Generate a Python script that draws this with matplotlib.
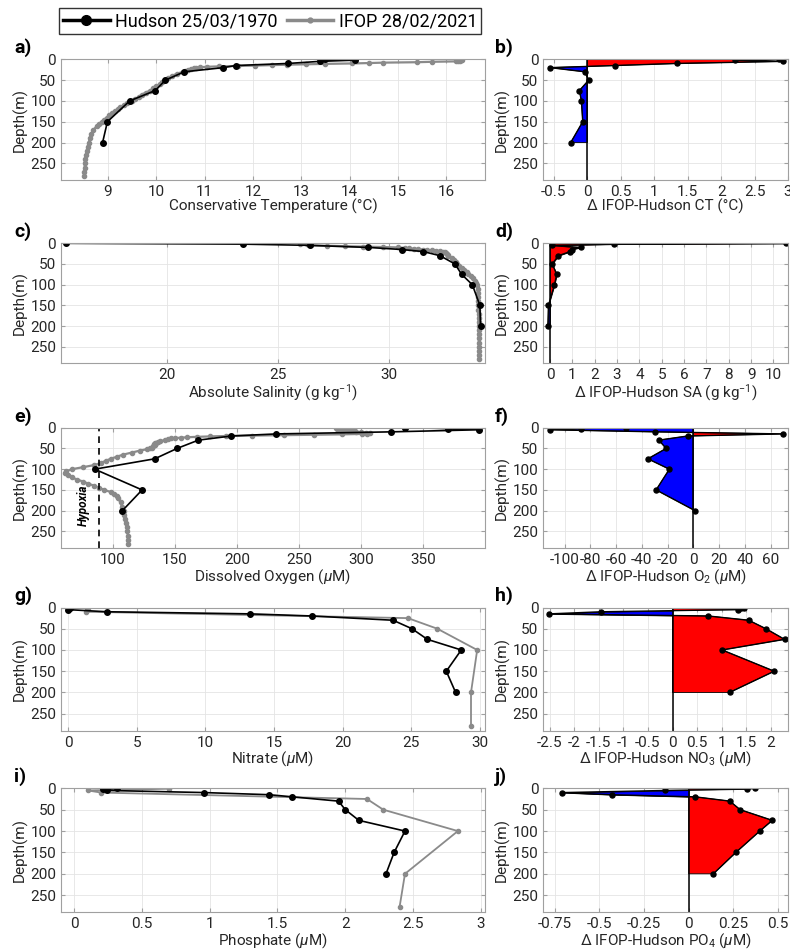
import numpy as np
import matplotlib
matplotlib.use("Agg")
import matplotlib.pyplot as plt
from matplotlib.lines import Line2D
from matplotlib.ticker import FuncFormatter

plt.rcParams['font.family'] = ['Roboto', 'DejaVu Sans']
plt.rcParams['axes.unicode_minus'] = False
plt.rcParams['mathtext.fontset'] = 'custom'
plt.rcParams['mathtext.rm'] = 'Roboto'
plt.rcParams['mathtext.it'] = 'Roboto:italic'
plt.rcParams['mathtext.bf'] = 'Roboto:bold'

# Hudson 25/03/1970 bottle data
hud_depth = [0, 2, 5, 10, 15, 20, 30, 50, 75, 100, 150, 200]
hud_ct = [13.49, 14.11, 13.38, 12.72, 11.64, 11.39, 10.58, 10.19, 9.98, 9.45, 8.99, 8.89]
hud_sa = [15.46, 23.41, 26.44, 29.06, 30.55, 31.53, 32.28, 32.95, 33.25, 33.73, 34.07, 34.10]
hud_o2 = [335.5, 370.2, 395.2, 324.5, 231.7, 195.4, 168.8, 151.6, 133.6, 85.2, 123.4, 107.5]
hud_no3 = [0.10, 0.05, 0.0, 2.79, 13.28, 17.77, 23.67, 25.05, 26.17, 28.64, 27.55, 28.23]
hud_po4 = [0.32, 0.216, 0.24, 0.96, 1.44, 1.61, 1.95, 2.0, 2.10, 2.44, 2.36, 2.30]

# IFOP 28/02/2021 CTD profiles
ifop_ct_depth = [1, 2, 3, 4, 5, 6, 7, 8, 9, 10, 11, 12, 13, 14, 15, 16, 17, 18, 19, 20,
                 22, 24, 26, 28, 30, 35, 40, 45, 50, 55, 60, 65, 70, 75, 80, 85, 90, 95,
                 100, 105, 110, 115, 120, 125, 130, 135, 140, 145, 150, 155, 160, 170,
                 180, 190, 200, 210, 220, 230, 240, 250, 260, 270, 280]
ifop_ct = [16.33, 16.30, 16.28, 16.25, 16.20, 15.70, 15.40, 14.70, 14.40, 14.05, 13.50,
           13.10, 12.70, 12.40, 12.05, 11.70, 11.30, 11.05, 10.90, 10.83, 10.78, 10.72,
           10.65, 10.60, 10.55, 10.42, 10.32, 10.25, 10.18, 10.12, 10.07, 10.00, 9.93,
           9.88, 9.78, 9.70, 9.64, 9.57, 9.49, 9.40, 9.33, 9.26, 9.20, 9.14, 9.08, 9.03,
           8.98, 8.92, 8.87, 8.82, 8.77, 8.70, 8.66, 8.63, 8.60, 8.58, 8.56, 8.55, 8.53,
           8.52, 8.52, 8.51, 8.51]

ifop_sa_depth = [1, 2, 3, 4, 5, 6, 7, 8, 9, 10, 11, 12, 13, 14, 15, 16, 17, 18, 19, 20,
                 22, 24, 26, 28, 30, 35, 40, 45, 50, 55, 60, 65, 70, 75, 80, 85, 90, 95,
                 100, 110, 120, 130, 140, 150, 160, 170, 180, 190, 200, 210, 220, 230,
                 240, 250, 260, 270, 280]
ifop_sa = [26.0, 26.3, 26.4, 26.45, 26.5, 27.2, 28.0, 28.8, 29.7, 30.4, 30.7, 30.9, 31.1,
           31.3, 31.5, 31.7, 31.9, 32.1, 32.3, 32.43, 32.5, 32.55, 32.6, 32.62, 32.65,
           32.8, 32.9, 32.98, 33.05, 33.15, 33.27, 33.37, 33.47, 33.55, 33.65, 33.75,
           33.83, 33.9, 33.93, 33.97, 33.99, 34.0, 34.0, 34.0, 34.0, 34.01, 34.01, 34.01,
           34.01, 34.02, 34.02, 34.02, 34.02, 34.02, 34.02, 34.02, 34.02]

ifop_o2_depth = [1, 2, 3, 4, 5, 6, 7, 8, 9, 10, 11, 12, 13, 14, 15, 16, 17, 18, 19, 20,
                 21, 22, 23, 24, 25, 26, 28, 30, 32, 34, 36, 38, 40, 42, 45, 48, 50, 52,
                 55, 60, 65, 70, 75, 80, 85, 90, 95, 100, 105, 110, 115, 120, 125, 130,
                 135, 140, 145, 150, 155, 160, 165, 170, 180, 190, 200, 210, 220, 230,
                 240, 250, 260, 270, 280]
ifop_o2 = [280, 283, 281, 285, 284, 287, 290, 293, 295, 296, 300, 304, 307, 305, 301, 285,
           262, 238, 212, 191, 178, 168, 160, 155, 150, 147, 144, 142, 138, 136, 134, 135,
           133, 134, 132, 131, 130, 127, 122, 115, 108, 103, 98, 94, 90, 85, 76, 67, 62,
           61, 64, 67, 71, 76, 80, 85, 89, 93, 98, 101, 103, 104, 106, 107, 108.5, 109,
           110, 110.5, 111, 111.5, 112, 112, 112]

# IFOP 28/02/2021 bottle nutrients
ifop_nut_depth = [1, 5, 10, 25, 50, 100, 200, 278]
ifop_no3 = [1.45, 1.40, 1.30, 24.75, 26.9, 29.8, 29.35, 29.35]
ifop_po4 = [0.70, 0.10, 0.20, 2.16, 2.28, 2.83, 2.44, 2.40]

# IFOP - Hudson differences at Hudson depths
d_ct = [2.86, 2.21, 2.92, 1.34, 0.41, -0.56, -0.04, 0.02, -0.12, -0.09, -0.07, -0.25]
d_sa = [10.55, 2.87, 0.10, 1.37, 0.97, 0.90, 0.37, 0.10, 0.30, 0.20, -0.07, -0.10]
d_o2 = [-52.0, -87.6, -111.3, -29.4, 69.6, -4.4, -26.8, -21.1, -35.3, -18.6, -28.9, 1.3]
d_no3 = [1.40, 1.45, 1.33, -1.45, -2.52, 0.73, 1.55, 1.90, 2.28, 1.01, 2.07, 1.16]
d_po4 = [0.372, 0.325, -0.132, -0.71, -0.427, 0.037, 0.23, 0.288, 0.468, 0.398, 0.264, 0.138]

hypoxia = 89

W, H = 790, 949
fig = plt.figure(figsize=(W / 100, H / 100), dpi=100)

tops = [59.3, 243.3, 427.7, 607.5, 788.3]
bots = [180, 363.3, 548, 730.7, 912.3]
grey = '#8a8a8a'
spine_c = '#a0a0a0'
txt_c = '#262626'
fmt = FuncFormatter(lambda v, p: '%g' % v)


def make_ax(x0, x1, row):
    ax = fig.add_axes([x0 / W, 1 - bots[row] / H, (x1 - x0) / W, (bots[row] - tops[row]) / H])
    ax.set_ylim(290, 0)
    ax.set_yticks([0, 50, 100, 150, 200, 250])
    ax.grid(True, color='#e4e4e4', lw=0.6)
    ax.set_axisbelow(True)
    for s in ax.spines.values():
        s.set_color(spine_c)
        s.set_linewidth(0.8)
    ax.tick_params(direction='in', length=3, color=spine_c, labelcolor=txt_c,
                   labelsize=11, top=True, right=True, pad=3.5)
    ax.xaxis.set_major_formatter(fmt)
    ax.set_ylabel('Depth(m)', fontsize=11, color=txt_c, labelpad=2)
    return ax


def left_panel(row, ifd, ifv, hv, xlim, xticks, xlabel, letter, dense=True):
    ax = make_ax(61, 485, row)
    if dense:
        ax.plot(ifv, ifd, color=grey, lw=1.6, marker='o', ms=3, mec=grey, mfc=grey)
    else:
        ax.plot(ifv, ifd, color=grey, lw=1.3, marker='o', ms=3, mec=grey, mfc=grey)
    ax.plot(hv, hud_depth, color='k', lw=1.2, marker='o', ms=4)
    ax.set_xlim(*xlim)
    ax.set_xticks(xticks)
    ax.set_xlabel(xlabel, fontsize=11, color=txt_c, labelpad=0)
    fig.text(14 / W, 1 - 53 / H - (tops[row] - 59.3) / H, letter, fontsize=14,
             fontweight='bold', ha='left', va='baseline')
    return ax


def right_panel(row, dv, xlim, xticks, xlabel, letter):
    ax = make_ax(543.3, 788, row)
    dv = np.array(dv)
    dep = np.array(hud_depth)
    ax.fill_betweenx(dep, 0, dv, where=dv >= 0, interpolate=True, facecolor='#ff0000',
                     edgecolor='k', lw=0.6)
    ax.fill_betweenx(dep, 0, dv, where=dv <= 0, interpolate=True, facecolor='#0000ff',
                     edgecolor='k', lw=0.6)
    ax.axvline(0, color='k', lw=1.1)
    ax.plot(dv, dep, color='k', lw=1.0, marker='o', ms=3.6)
    ax.set_xlim(*xlim)
    ax.set_xticks(xticks)
    ax.set_xlabel(xlabel, fontsize=11, color=txt_c, labelpad=0)
    fig.text(495 / W, 1 - 53 / H - (tops[row] - 59.3) / H, letter, fontsize=14,
             fontweight='bold', ha='left', va='baseline')
    return ax


left_panel(0, ifop_ct_depth, ifop_ct, hud_ct, (8.03, 16.8), range(9, 17),
           'Conservative Temperature (°C)', 'a)')
right_panel(0, d_ct, (-0.66, 3.0), [-0.5, 0, 0.5, 1, 1.5, 2, 2.5, 3],
            'Δ IFOP-Hudson CT (°C)', 'b)')

left_panel(1, ifop_sa_depth, ifop_sa, hud_sa, (15.25, 34.3), [20, 25, 30],
           r'Absolute Salinity (g kg$^{-1}$)', 'c)')
right_panel(1, d_sa, (-0.3, 10.65), range(0, 11),
            r'Δ IFOP-Hudson SA (g kg$^{-1}$)', 'd)')

ax_e = left_panel(2, ifop_o2_depth, ifop_o2, hud_o2, (58, 400), range(100, 400, 50),
                  r'Dissolved Oxygen ($\mu$M)', 'e)')
ax_e.axvline(hypoxia, color='k', lw=1.2, ls=(0, (4, 3)))
ax_e.text(76, 186, 'Hypoxia', rotation=90, fontsize=8.5, fontweight='bold',
          fontstyle='italic', ha='center', va='center')
right_panel(2, d_o2, (-116.5, 73.5), range(-100, 61, 20),
            r'Δ IFOP-Hudson O$_2$ ($\mu$M)', 'f)')

left_panel(3, ifop_nut_depth, ifop_no3, hud_no3, (-0.53, 30.37), range(0, 31, 5),
           r'Nitrate ($\mu$M)', 'g)', dense=False)
right_panel(3, d_no3, (-2.63, 2.35), [-2.5, -2, -1.5, -1, -0.5, 0, 0.5, 1, 1.5, 2],
            r'Δ IFOP-Hudson NO$_3$ ($\mu$M)', 'h)')

left_panel(4, ifop_nut_depth, ifop_po4, hud_po4, (-0.096, 3.03), [0, 0.5, 1, 1.5, 2, 2.5, 3],
           r'Phosphate ($\mu$M)', 'i)', dense=False)
right_panel(4, d_po4, (-0.814, 0.556), [-0.75, -0.5, -0.25, 0, 0.25, 0.5],
            r'Δ IFOP-Hudson PO$_4$ ($\mu$M)', 'j)')

handles = [Line2D([], [], color='k', lw=2.5, marker='o', ms=7),
           Line2D([], [], color=grey, lw=2.5, marker='o', ms=3.5)]
leg = fig.legend(handles, ['Hudson 25/03/1970', 'IFOP 28/02/2021'], loc='center',
                 bbox_to_anchor=(270 / W, 1 - 21 / H), ncol=2, fontsize=13,
                 frameon=True, fancybox=False, edgecolor='k', handlelength=2.6,
                 handletextpad=0.3, columnspacing=0.5, borderpad=0.2)
leg.get_frame().set_linewidth(1.0)

fig.savefig('out.png', dpi=100)
